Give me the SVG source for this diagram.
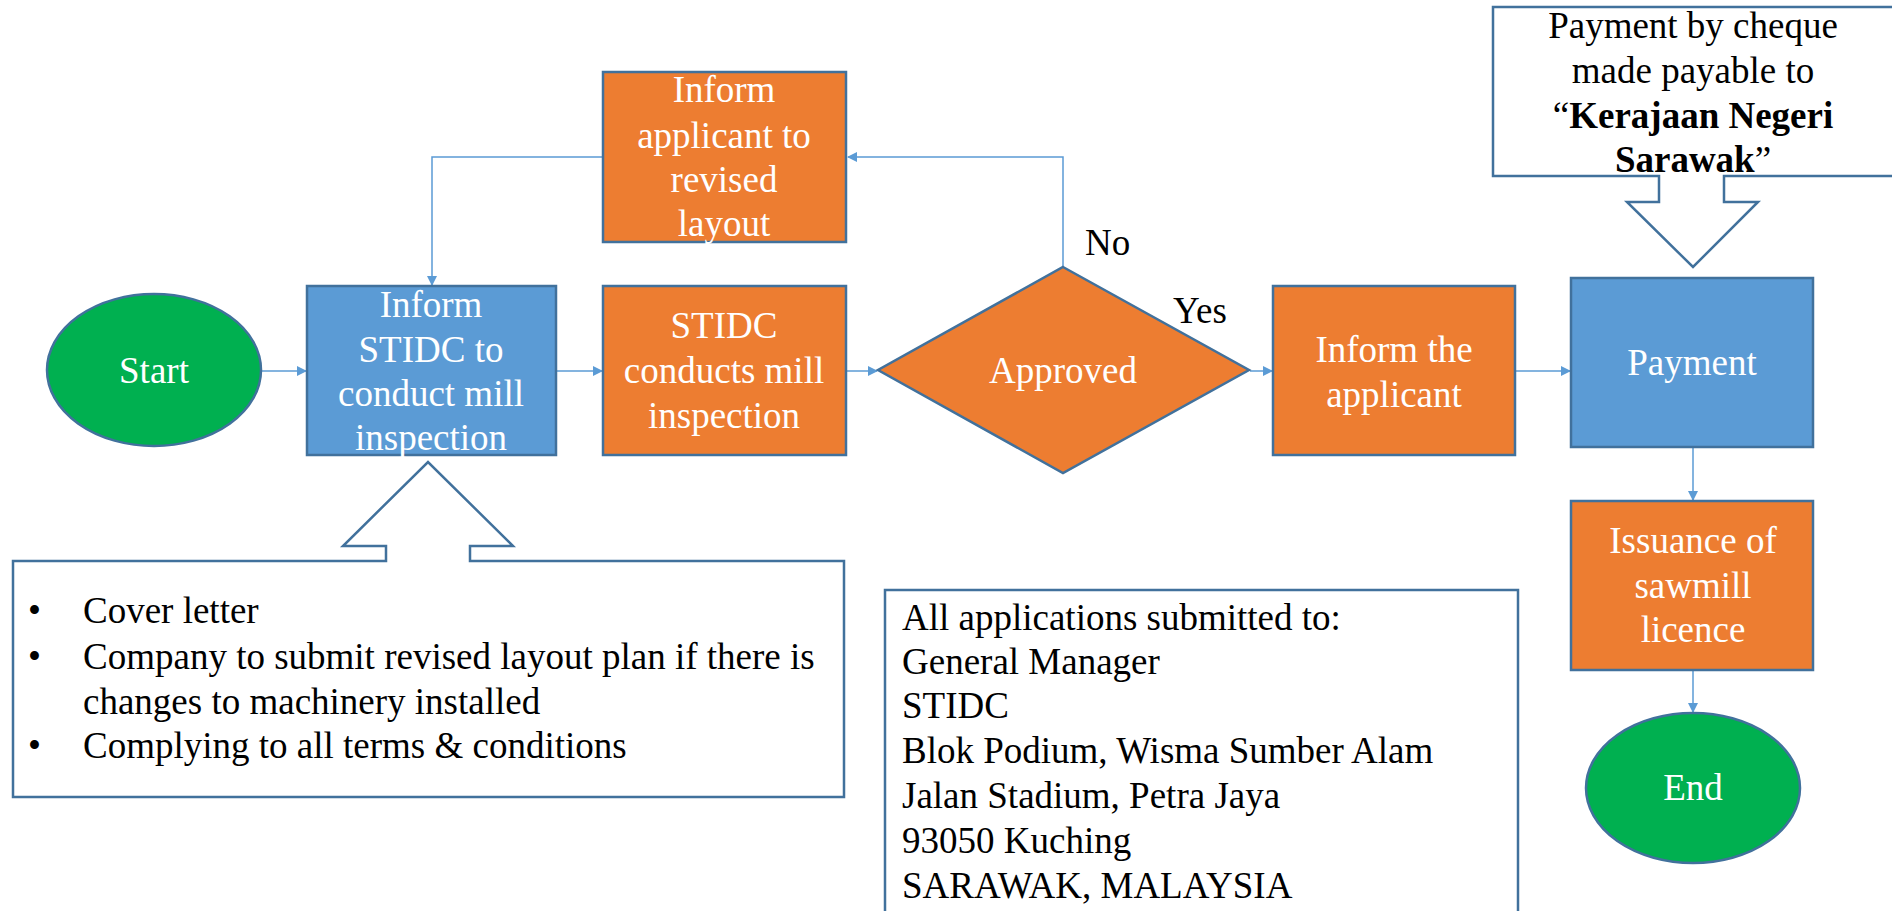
<svg xmlns="http://www.w3.org/2000/svg" width="1892" height="911" viewBox="0 0 1892 911">
<style>
.orange{fill:#ED7D31;stroke:#41719C;stroke-width:2.5}
.blue{fill:#5B9BD5;stroke:#41719C;stroke-width:2.5}
.green{fill:#00B050;stroke:#41719C;stroke-width:2.5}
.call{fill:#FFFFFF;stroke:#41719C;stroke-width:2.5}
.conn{fill:none;stroke:#5B9BD5;stroke-width:1.5}
text{font-family:"Liberation Serif","Times New Roman",serif;font-size:37px}
.w{fill:#FFFFFF;text-anchor:middle}
.k{fill:#000000}
.kc{fill:#000000;text-anchor:middle}
</style>
<defs>
<marker id="ah" markerWidth="10" markerHeight="10" refX="9" refY="5" orient="auto" markerUnits="userSpaceOnUse">
<path d="M0,0 L10,5 L0,10 Z" fill="#5B9BD5"/>
</marker>
</defs>
<rect width="1892" height="911" fill="#FFFFFF"/>
<g id="connectors">
<line class="conn" x1="262" y1="371" x2="306" y2="371" marker-end="url(#ah)"/>
<line class="conn" x1="557" y1="371" x2="602" y2="371" marker-end="url(#ah)"/>
<line class="conn" x1="847" y1="371" x2="877" y2="371" marker-end="url(#ah)"/>
<line class="conn" x1="1250" y1="371" x2="1272" y2="371" marker-end="url(#ah)"/>
<line class="conn" x1="1516" y1="371" x2="1570" y2="371" marker-end="url(#ah)"/>
<polyline class="conn" points="1063,267 1063,157 848,157" marker-end="url(#ah)"/>
<polyline class="conn" points="603,157 432,157 432,285" marker-end="url(#ah)"/>
<line class="conn" x1="1693" y1="448" x2="1693" y2="500" marker-end="url(#ah)"/>
<line class="conn" x1="1693" y1="671" x2="1693" y2="712" marker-end="url(#ah)"/>
</g>
<g id="start">
<ellipse class="green" cx="154" cy="370" rx="107" ry="76"/>
<text class="w" x="154" y="383">Start</text>
</g>
<g id="inform-stidc">
<rect class="blue" x="307" y="286" width="249" height="169"/>
<text class="w" x="431" y="317">Inform</text>
<text class="w" x="431" y="362">STIDC to</text>
<text class="w" x="431" y="406">conduct mill</text>
<text class="w" x="431" y="450">inspection</text>
</g>
<g id="inform-revised">
<rect class="orange" x="603" y="72" width="243" height="170"/>
<text class="w" x="724" y="102">Inform</text>
<text class="w" x="724" y="148">applicant to</text>
<text class="w" x="724" y="192">revised</text>
<text class="w" x="724" y="236">layout</text>
</g>
<g id="stidc-conducts">
<rect class="orange" x="603" y="286" width="243" height="169"/>
<text class="w" x="724" y="338">STIDC</text>
<text class="w" x="724" y="383">conducts mill</text>
<text class="w" x="724" y="428">inspection</text>
</g>
<g id="approved">
<polygon class="orange" points="1063,267 1249,370 1063,473 878,370"/>
<text class="w" x="1063" y="383">Approved</text>
</g>
<g id="label-no"><text class="k" x="1085" y="255">No</text></g>
<g id="label-yes"><text class="k" x="1173" y="323">Yes</text></g>
<g id="inform-applicant">
<rect class="orange" x="1273" y="286" width="242" height="169"/>
<text class="w" x="1394" y="362">Inform the</text>
<text class="w" x="1394" y="407">applicant</text>
</g>
<g id="payment">
<rect class="blue" x="1571" y="278" width="242" height="169"/>
<text class="w" x="1692" y="375">Payment</text>
</g>
<g id="payment-note">
<path class="call" d="M1493,7 L1900,7 L1900,176 L1724,176 L1724,202 L1758,202 L1693,267 L1627,202 L1659,202 L1659,176 L1493,176 Z"/>
<text class="kc" x="1693" y="38">Payment by cheque</text>
<text class="kc" x="1693" y="83">made payable to</text>
<text class="kc" x="1693" y="128">“<tspan font-weight="bold">Kerajaan Negeri</tspan></text>
<text class="kc" x="1693" y="172"><tspan font-weight="bold">Sarawak</tspan>”</text>
</g>
<g id="issuance">
<rect class="orange" x="1571" y="501" width="242" height="169"/>
<text class="w" x="1693" y="553">Issuance of</text>
<text class="w" x="1693" y="598">sawmill</text>
<text class="w" x="1693" y="642">licence</text>
</g>
<g id="end">
<ellipse class="green" cx="1693" cy="788" rx="107" ry="75"/>
<text class="w" x="1693" y="800">End</text>
</g>
<g id="requirements-note">
<path class="call" d="M13,561 L386,561 L386,546 L343,546 L428,462 L513,546 L470,546 L470,561 L844,561 L844,797 L13,797 Z"/>
<text class="k" x="28" y="623">•</text>
<text class="k" x="83" y="623">Cover letter</text>
<text class="k" x="28" y="669">•</text>
<text class="k" x="83" y="669">Company to submit revised layout plan if there is</text>
<text class="k" x="83" y="714">changes to machinery installed</text>
<text class="k" x="28" y="758">•</text>
<text class="k" x="83" y="758">Complying to all terms &amp; conditions</text>
</g>
<g id="address-note">
<rect class="call" x="885" y="590" width="633" height="340"/>
<text class="k" x="902" y="630">All applications submitted to:</text>
<text class="k" x="902" y="674">General Manager</text>
<text class="k" x="902" y="718">STIDC</text>
<text class="k" x="902" y="763">Blok Podium, Wisma Sumber Alam</text>
<text class="k" x="902" y="808">Jalan Stadium, Petra Jaya</text>
<text class="k" x="902" y="853">93050 Kuching</text>
<text class="k" x="902" y="898">SARAWAK, MALAYSIA</text>
</g>
</svg>
